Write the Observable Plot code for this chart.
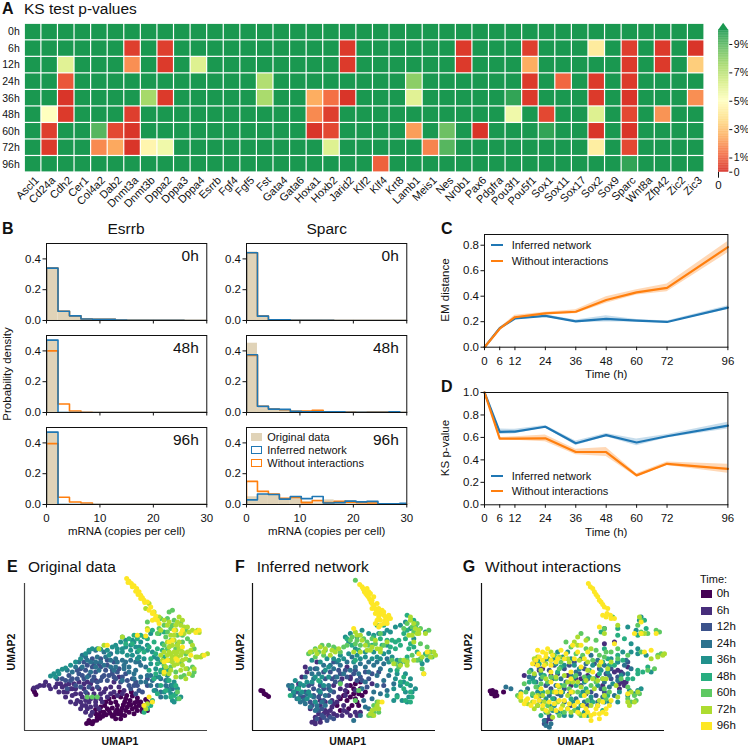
<!DOCTYPE html>
<html><head><meta charset="utf-8">
<script src="https://cdn.jsdelivr.net/npm/d3@7"></script>
<script src="https://cdn.jsdelivr.net/npm/@observablehq/plot@0.6"></script>
<style>
html,body{margin:0;padding:0;background:#fff}
#root{position:relative;width:748px;height:747px;overflow:hidden;font-family:"Liberation Sans",Arial,sans-serif;color:#111}
#root svg{position:absolute;overflow:visible;background:transparent}
.t{position:absolute;white-space:nowrap;line-height:1}
</style></head><body><div id="root"></div>
<script>
const genes=["Ascl1","Cd24a","Cdh2","Cer1","Col4a2","Dab2","Dnmt3a","Dnmt3b","Dppa2","Dppa3","Dppa4","Esrrb","Fgf4","Fgf5","Fst","Gata4","Gata6","Hoxa1","Hoxb2","Jarid2","Klf2","Klf4","Krt8","Lamb1","Meis1","Nes","Nr0b1","Pax6","Pdgfra","Pou3f1","Pou5f1","Sox1","Sox11","Sox17","Sox2","Sox9","Sparc","Wnt8a","Zfp42","Zic2","Zic3"];
const hours=["0h","6h","12h","24h","36h","48h","60h","72h","96h"];
const lowP6h={Dnmt3a:.3,Dppa2:.3,Jarid2:.2,Nr0b1:.2,Pou5f1:.3,Sox2:4.2,Sparc:.3,Zfp42:.2,Zic3:.1};
const lowP12h={Cdh2:6,Dnmt3a:1.9,Dppa2:.2,Dppa4:6.1,Jarid2:.2,Nr0b1:.2,Pou5f1:2.5,Sparc:.2,Zfp42:.2,Zic3:3.3};
const lowP24h={Cdh2:.8,Fst:7.2,Lamb1:8,Pou5f1:.2,Sox11:1.1,Sox2:.2,Sparc:.2};
const lowP36h={Cdh2:.1,Dnmt3b:7.5,Dppa2:.2,Fst:7.4,Hoxa1:2.5,Hoxb2:1.3,Jarid2:.1,Lamb1:6,Pou3f1:9.6,Pou5f1:.2,Sox2:.2,Sparc:.1,Zic3:1.9};
const lowP48h={Cd24a:5,Cdh2:.2,Dnmt3a:.3,Hoxa1:1.8,Hoxb2:.3,Pou3f1:5.5,Sox1:.5,Sox2:6.1,Sparc:.5,Zfp42:2};
const lowP60h={Cd24a:.3,Col4a2:9,Dab2:.5,Dnmt3a:.1,Hoxa1:.1,Hoxb2:.5,Lamb1:2.2,Nes:8.6,Pax6:.1,Sox1:9.6,Sox2:.1,Sparc:.1};
const lowP72h={Cd24a:.2,Col4a2:1.8,Dab2:2.4,Dnmt3a:.1,Dnmt3b:4.6,Dppa2:5.5,Hoxb2:6.1,Meis1:1.7,Nes:9,Sox2:4.3,Sparc:.5};
const lowP96h={Klf4:1,Sparc:9.6};
const lowByHour={"6h":lowP6h,"12h":lowP12h,"24h":lowP24h,"36h":lowP36h,"48h":lowP48h,"60h":lowP60h,"72h":lowP72h,"96h":lowP96h};
const rdylgnStops=[0,1.25,2.5,3.75,5,6.25,7.5,8.75,10];
const rdylgnColors=["#d73027","#f46d43","#fdae61","#fee08b","#ffffbf","#d9ef8b","#a6d96a","#66bd63","#1a9850"];
const timeColors=["#440154","#472d7b","#3b528b","#2c728e","#21918c","#28ae80","#5ec962","#addc30","#fde725"];
const tan="#e0d3b8",blue="#1f77b4",orange="#ff7f0e";

// Histograms (density per bin)
const esrrbEdge=2.15, sparcEdge=2.05;
const esrrb0hOrig=[.34,.06,.03,.01,.007,.007,.002,.002,.002,.001,.001,.001,0,0];
const esrrb0hInf=[.34,.06,.03,.01,.008,.008,.003,.002,.002,.002,.002,.002,0,0];
const esrrb0hNo=[.34,.06,.03,.01,.008,.008,.003,.002,.002,.002,.002,.002,0,0];
const esrrb48hOrig=[.47,.002,0,0,0,0,0,0,0,0,0,0,0,0];
const esrrb48hInf=[.47,0,0,0,0,0,0,0,0,0,0,0,0,0];
const esrrb48hNo=[.4,.055,.01,.002,0,0,0,0,0,0,0,0,0,0];
const esrrb96hOrig=[.47,.002,0,0,0,0,0,0,0,0,0,0,0,0];
const esrrb96hInf=[.47,0,0,0,0,0,0,0,0,0,0,0,0,0];
const esrrb96hNo=[.395,.047,.016,.01,0,0,0,0,0,0,0,0,0,0];
const sparc0hOrig=[.445,.028,.004,.003,.001,.001,.001,0,0,0,0,0,0,0,0];
const sparc0hInf=[.44,.028,.005,.005,.002,.002,.001,.001,0,0,0,0,0,0,0];
const sparc0hNo=[.44,.028,.005,.005,.002,.002,.001,.001,0,0,0,0,0,0,0];
const sparc48hOrig=[.45,.025,.02,.015,.01,.005,.005,.005,.005,.002,.001,.002,.002,.002,.001];
const sparc48hInf=[.375,.04,.022,.02,.008,.004,.005,.005,.004,.002,.002,.002,.001,.004,0];
const sparc48hNo=[.37,.04,.022,.018,.007,.01,.014,.005,.004,.003,.001,.003,.003,.002,0];
const sparc96hOrig=[.05,.065,.06,.035,.045,.02,.01,.03,.02,.025,.012,.012,.005,.003,.002];
const sparc96hInf=[.03,.068,.065,.035,.052,.038,.052,.01,.012,.022,.017,.02,.005,.004,.008];
const sparc96hNo=[.15,.085,.067,.04,.045,.012,.025,.012,.02,.015,.012,.01,.003,.003,.003];

// Lines
const timeH=[0,6,12,24,36,48,60,72,96];
const emInf=[0,.15,.225,.245,.203,.222,.208,.198,.31];
const emInfErr=[0,.005,.01,.01,.01,.025,.01,.008,.015];
const emNo=[0,.145,.235,.265,.278,.37,.43,.465,.785];
const emNoErr=[0,.008,.015,.01,.015,.025,.02,.03,.045];
const ksInf=[1,.65,.652,.695,.548,.62,.555,.61,.705];
const ksInfErr=[0,.025,.02,.01,.02,.015,.03,.015,.03];
const ksNo=[1,.59,.59,.592,.47,.47,.262,.365,.32];
const ksNoErr=[0,.01,.015,.03,.025,.04,.015,.015,.04];

// UMAP readings, panel E (original data)
const e0h=[258,534,268,532,278,528,288,524,298,518,306,512,316,508,328,503,340,508,352,505,362,508,320,490,335,488,350,492,365,488,380,485,395,490,410,495,425,498,372,470,388,465,402,472,415,480,430,480,360,455,378,450,395,452,410,458,345,470,330,472,300,498,285,492,312,480,385,500,400,505,98,432,102,440,106,447,372,510,440,470,360,520,265,525,275,535,290,515,310,500,325,495,345,498,360,498,375,495,390,478,405,485,420,470,435,462,350,480,368,478,385,475,340,455,325,460,300,485,315,470,358,440,375,460,392,440,410,468,425,490,440,495,285,505,295,508,335,512,345,520];
const e6h=[130,420,150,430,170,415,185,425,200,440,215,450,230,465,245,480,260,490,275,500,295,490,305,470,285,470,265,470,245,455,225,430,205,415,190,440,175,440,320,455,340,440,355,425,370,435,300,445,280,445,315,430,250,430,235,410,260,410,340,410,355,395,118,420,110,425,100,428,255,480,270,485,215,430,195,420,330,425,210,470,225,475,240,470,255,465,270,460,285,460,300,460,240,490,255,500,270,510,285,480,225,445,210,430,195,455,180,415,165,425,145,420,135,410,240,445,260,445,275,430,295,430,310,440,330,445,350,450,365,445,220,415,250,415,270,415,285,405];
const e12h=[215,400,235,385,255,375,275,365,295,355,315,375,335,385,355,370,375,385,395,400,410,420,425,440,280,395,300,405,320,405,250,400,225,420,265,425,290,425,205,390,195,405,340,350,250,350,275,340,300,340,320,345,390,430,405,445,440,420,440,400,240,370,285,380,310,390,345,400,170,400,185,400,200,430,240,425,255,440,275,405,290,410,305,395,325,390,340,395,360,410,380,405,400,420,415,435,210,405,230,400,245,390,265,390,280,355,260,360,230,375,300,365,320,360,335,375,350,380,365,395,385,420,405,410];
const e24h=[245,330,265,320,285,315,310,320,330,325,345,340,365,345,385,365,405,375,420,395,440,390,455,405,470,420,480,440,500,430,515,430,310,360,295,375,270,380,245,365,225,365,200,375,365,405,345,365,330,365,415,350,390,345,435,365,480,400,495,405,260,345,290,335,370,370,400,400,235,350,255,335,270,350,285,350,300,350,315,335,330,345,350,350,370,360,385,380,400,385,420,410,435,410,450,420,465,435,480,455,495,420,510,420,450,390,465,395,420,360,405,350,215,380,285,365,260,395,340,375,375,350];
const e36h=[150,392,160,385,172,378,185,372,195,368,210,360,225,350,240,340,255,325,275,310,300,312,320,315,350,320,365,320,375,305,390,300,405,305,420,290,440,300,455,320,470,340,430,340,410,340,395,330,380,330,450,355,465,370,480,380,500,390,520,410,530,430,510,445,495,455,515,465,450,265,460,435,410,320,425,310,375,285,395,285,265,315,290,310,335,305,345,300,360,290,400,290,415,305,440,315,460,335,480,350,490,370,475,395,500,405,515,420,525,445,540,455,520,470,505,435,490,440,415,335,390,315,365,310,350,310,325,330,165,395,175,385];
const e48h=[365,275,385,280,400,270,420,270,375,295,440,280,460,290,430,320,450,340,470,355,490,335,510,300,485,295,470,310,500,375,460,400,480,420,495,435,520,450,440,490,430,500,450,480,455,255,475,265,490,260,395,295,410,280,430,275,415,315,445,305,465,325,485,315,505,345,480,375,465,385,445,375,505,405,525,420,510,455,530,460,455,465,470,445];
const e60h=[515,195,505,200,520,225,500,220,480,220,490,240,510,250,530,270,545,290,525,310,500,310,520,340,540,350,490,360,475,250,470,265,540,235,555,255,570,290,580,310,560,370,580,380,575,390,550,390,260,455,275,455,290,455,535,460,530,440,440,230,500,260,515,240,495,275,510,285,490,300,530,295,540,310,555,325,565,345,545,270,560,280,510,365,525,380,540,395,575,365];
const e72h=[535,215,545,225,540,240,525,255,550,265,565,260,590,255,595,262,510,270,520,285,535,290,515,300,530,320,510,325,540,330,560,320,575,300,590,335,605,330,620,325,545,360,520,360,500,345,490,385,505,385,525,395,555,370,435,190,445,175,460,200,475,215,490,225,505,230,480,255,440,250,365,275,310,300,295,310,440,475,435,490,530,335,515,350,530,300,550,245,560,245,575,255,530,230,520,270,500,290,505,320,520,320,545,345,555,340,570,315,585,335,600,335,495,365,510,375,540,375,565,385,555,400,580,370,500,240,525,240,490,320,500,330,515,335,530,355,545,320,485,345,480,330,505,305,525,330,535,310,510,345];
const e96h=[378,100,385,108,392,115,400,122,408,130,415,140,420,150,425,158,430,165,440,170,450,185,458,200,465,212,470,225,455,225,440,255,515,285,520,255,545,255,595,255,500,345,490,350,320,300,410,270,435,272,545,305,570,330,610,330,530,345,490,380,455,470,445,455,430,480,382,112,395,125,405,138,412,148,420,160,432,172,445,195,455,205,462,222,475,235,505,290,540,265,585,262,525,340];
// panel F (inferred network)
const f0h=[62,435,68,437,72,445,78,448,85,453,330,420,345,415,360,410,320,440,340,445,360,430,375,440,300,460,320,465,345,460,290,480,300,495,335,480,355,480,340,430,355,445,365,450,330,455,310,450,350,470,325,490];
const f6h=[215,530,225,535,240,530,250,515,265,510,280,505,235,505,255,495,275,485,290,470,310,480,240,480,225,515,305,510,320,500,345,500,360,500,300,430,280,420,230,350,195,365,200,380,185,395,320,365,395,415,330,395,345,435,320,420,315,450,225,525,240,520,260,500,270,495,250,505,290,510,280,475,295,455,310,495,330,510,350,510,315,435,330,400,305,400,275,465,255,470,240,465,225,470,205,440,175,415,210,490];
const f12h=[150,430,170,440,190,455,210,470,235,455,250,465,265,450,280,440,220,430,205,420,195,440,300,410,320,395,340,385,360,395,375,380,385,400,255,400,270,380,295,375,250,430,245,490,260,525,280,520,230,520,245,510,160,440,180,455,200,460,220,450,240,445,265,430,285,410,300,385,315,375,345,375,365,405,395,385,415,380,430,420,380,425,275,400,250,380,225,370,280,350,215,480,235,495,250,515,270,515,175,425,215,415,240,420,285,395,350,405];
const f24h=[145,420,160,450,180,470,195,475,225,495,245,470,220,400,235,385,195,395,210,370,270,360,290,350,320,350,345,365,375,365,400,360,420,370,440,340,410,390,430,405,365,430,400,440,370,465,385,490,340,525,360,510,230,480,270,470,255,450,220,455,155,420,170,460,190,465,210,485,230,490,255,480,270,435,215,385,230,370,250,360,280,370,300,360,335,335,360,355,385,350,410,350,430,355,445,390,460,415,440,435,420,445,395,460,375,485,410,420,375,410,180,445,200,445,235,435,265,420,290,395,310,385,330,375,355,385,385,380];
const f36h=[165,405,180,415,205,440,190,420,215,410,240,410,255,375,240,350,215,345,260,340,300,330,340,350,360,340,395,340,420,340,440,300,470,345,450,375,465,400,490,410,510,420,505,455,470,450,460,430,350,275,315,275,325,290,415,265,430,265,450,260,495,230,480,240,520,280,560,345,160,440,175,460,210,450,240,440,170,430,155,425,185,440,200,410,225,395,245,395,265,395,280,340,310,340,325,325,350,330,375,335,410,335,430,325,455,335,445,320,480,355,470,385,480,420,495,440,515,440,500,470,485,465,460,465,440,450,330,265,365,255,385,265,400,270,440,255,465,245,510,250,555,260,545,355,200,460,225,470,250,420,265,365,295,345,345,310,375,320,400,320,445,350,495,385,510,400,525,430];
const f48h=[150,450,175,430,235,405,345,345,395,300,420,280,440,285,465,290,495,280,480,300,505,310,530,320,555,325,480,410,490,430,470,455,510,470,430,240,410,240,500,210,520,225,525,245,500,255,320,280,335,300,355,315,400,275,425,300,450,305,475,285,510,295,540,345,500,335,470,375,490,395,500,415,515,455,465,310,520,305,490,265,455,285,510,440,495,465];
const f60h=[205,325,225,310,245,300,265,300,285,310,225,335,250,330,300,320,335,275,345,295,320,300,360,300,380,290,395,280,420,265,345,465,355,435,300,415,410,470,400,500,395,510,475,365,495,350,515,330,540,340,560,305,575,335,545,370,550,385,490,250,520,260,540,250,565,255,345,105,215,320,235,320,255,315,280,305,310,305,330,285,350,285,370,280,385,300,405,295,430,300,455,345,465,355,480,345,500,345,530,345,560,330,570,320,540,295,500,235,515,245,530,235,415,500,385,510,400,480];
const f72h=[210,320,225,315,240,305,255,310,275,315,295,310,270,330,345,260,360,270,375,300,395,305,410,310,380,315,360,320,340,320,405,490,410,480,415,470,390,505,480,360,500,360,520,345,545,335,565,320,585,330,510,215,520,235,530,265,505,270,520,290,535,255,230,325,250,320,285,320,350,270,365,285,390,315,420,310,440,290,405,285,420,320,395,495,400,510,415,490,525,250,515,270,510,225,535,265,555,265,500,350,490,345,460,355,580,320,570,335];
const f96h=[358,118,365,125,372,140,380,150,388,162,395,175,405,190,412,200,420,205,430,210,440,215,420,225,405,235,395,165,410,175,425,195,415,215,435,225,445,210,380,130,390,145,405,205,440,235,415,245,425,470,550,385,535,325,560,320,340,250,368,130,376,145,384,155,392,170,400,180,408,195,416,210,425,205,435,215,395,190,385,140,400,155,415,190,430,200,430,235,410,225,420,240,440,225,450,220,370,132];
// panel G (without interactions)
const g0h=[58,437,65,435,75,440,72,452,62,445,98,440,68,445,78,450];
const g6h=[160,390,205,375,215,370,225,530,235,520,400,295,430,290,315,400,440,375,455,410,470,365,460,420,445,430,380,390,350,390,290,390,240,390,225,525,240,520,300,420,330,400,395,420,430,380,450,380,445,415,465,410];
const g12h=[190,355,220,345,250,360,280,370,310,350,340,370,370,355,420,370,470,350,420,400,390,430,360,440,330,420,280,430,240,430,210,450,220,535,400,250,300,480,350,480,205,370,235,375,260,385,295,360,325,385,350,400,385,370,405,385,440,395,455,385,400,440,375,450,345,445,295,445,260,445,225,420,235,510];
const g24h=[225,540,240,535,175,395,190,390,210,400,245,400,270,400,300,390,330,340,360,330,400,360,440,350,460,360,480,370,400,410,430,450,380,470,340,470,280,470,250,460,170,430,120,430,105,425,220,525,235,545,195,410,230,415,255,420,285,410,315,380,345,355,380,345,415,390,440,405,465,345,415,425,395,455,360,465,315,460,270,450,235,450,205,465];
const g36h=[180,375,200,345,230,340,260,320,290,320,310,360,340,410,380,420,410,380,450,390,480,320,500,325,455,320,480,295,470,245,510,215,500,310,525,330,215,470,245,495,280,510,320,490,360,455,400,470,470,450,490,445,150,440,185,400,210,385,250,340,275,335,300,340,325,370,355,395,395,400,420,340,440,350,470,385,500,435,475,435,510,430,200,480,235,480,260,500,300,510,340,500,380,480,415,470,440,470,540,380,505,225,495,255,200,440,225,460,250,480,275,440,305,470,335,440,365,360,390,375,425,415,445,440,280,360,255,355];
const g48h=[190,410,220,390,260,380,300,410,330,450,370,400,410,340,440,330,485,400,500,385,515,380,520,225,500,270,525,250,460,280,440,270,390,260,400,310,210,510,290,490,350,510,410,450,205,355,240,345,270,365,310,395,345,430,385,385,415,360,455,345,470,400,440,250,530,365,500,375,215,440,245,460,300,460,365,470,395,495,175,410,200,425,240,440,270,420,315,420,355,375,395,350,430,360,185,450,225,500,275,500,330,480];
const g60h=[140,450,165,440,195,425,230,410,270,350,285,290,330,265,350,280,385,330,375,285,420,320,440,310,530,375,550,370,555,255,565,260,500,240,510,260,470,425,490,450,480,470,495,465,425,215,400,250,250,330,280,420,320,440,360,420,175,380,215,395,255,400,295,430,315,390,335,330,365,345,400,335,440,340,470,330,510,320,560,330,570,325,530,265,510,225,230,480,265,510,310,495,350,465,400,430,470,460,505,445,160,415,185,445,210,415,240,395,265,370,300,305,315,325,345,310,375,315,405,320,340,395,375,410,415,440,450,400,260,440,280,500,330,510,405,460];
const g72h=[145,455,170,475,200,480,230,500,260,470,290,450,320,410,350,350,360,310,310,290,290,340,240,320,200,335,220,470,250,440,280,390,320,300,440,240,400,265,520,265,540,340,560,335,580,325,470,470,480,440,500,440,420,350,395,400,350,440,150,465,185,470,215,490,245,515,275,480,305,440,330,425,365,400,385,360,345,285,320,275,265,335,225,355,190,340,215,450,255,395,295,350,305,410,345,405,370,430,405,400,400,450,440,455,475,480,490,470,510,265,505,215,575,330,190,385,210,375,225,400,265,425,290,410,325,345,350,375,380,405,410,370,435,420,230,440,200,450,190,490,240,490,300,500,325,505,385,465,360,480];
const g96h=[352,115,358,125,370,140,380,155,390,170,400,185,410,190,418,210,405,215,430,220,510,230,490,265,555,265,385,245,430,295,520,320,540,315,200,315,215,320,230,310,225,335,200,360,240,360,220,360,150,455,165,465,180,480,205,465,250,475,270,490,295,475,320,470,345,490,360,510,385,505,405,490,395,470,340,450,300,440,260,420,240,380,280,340,330,300,350,320,300,380,255,440,365,130,375,148,385,165,395,178,408,205,420,220,395,210,510,265,185,355,205,335,215,345,245,330,260,340,270,315,310,340,330,365,365,380,390,350,150,445,170,460,190,470,215,480,235,470,265,465,290,490,310,480,335,480,375,490,395,500,415,480,370,505,350,500,195,345,225,325,240,345,255,350,285,325,305,300,320,320,340,340,300,400,270,440,240,410,210,430,160,475,195,455,225,495,255,495,280,465,320,500,340,510,380,480,420,465,405,505,385,520,360,525,470,445];

const FONT='"Liberation Sans",Arial,sans-serif';
const root=document.getElementById("root");
const baseStyle={fontFamily:FONT,fontSize:"11.5px",background:"transparent",overflow:"visible"};
function place(node,left,top){node.style.position="absolute";node.style.left=left+"px";node.style.top=top+"px";root.append(node);}
function label(text,x,y,o={}){const d=document.createElement("div");d.className="t";d.textContent=text;
  const tr=o.rot?"translate(-50%,-50%) rotate(-90deg)":o.center?"translate(-50%,-50%)":"translateY(-50%)";
  d.style.cssText+=`left:${x}px;top:${y}px;font-size:${o.size||11}px;font-weight:${o.bold?"bold":"normal"};transform:${tr};color:${o.color||"#111"}`;root.append(d);}
function swatch(x,y,w,h,css){const d=document.createElement("div");d.style.cssText=`position:absolute;left:${x}px;top:${y}px;width:${w}px;height:${h}px;box-sizing:border-box;${css}`;root.append(d);}

// Panel A
const cells=hours.flatMap(h=>genes.map(g=>({gene:g,hour:h,p:(lowByHour[h]&&lowByHour[h][g]!==undefined)?lowByHour[h][g]:12})));
const colorOpt={type:"linear",domain:rdylgnStops,range:rdylgnColors,clamp:true};
place(Plot.plot({width:710,height:220,marginLeft:24.3,marginRight:6,marginTop:23.3,marginBottom:48,style:baseStyle,
  x:{type:"band",domain:genes,padding:0,round:false},y:{type:"band",domain:hours,padding:0,round:false},color:colorOpt,
  marks:[Plot.cell(cells,{x:"gene",y:"hour",fill:"p",inset:.6}),
    Plot.axisX({tickSize:0,tickRotate:-45,label:null,fontSize:11,tickPadding:6,dx:4,fill:"#111"}),
    Plot.axisY({tickSize:0,label:null,fontSize:10.5,tickPadding:5,fill:"#111"})]}),0,0);
const cbarSteps=d3.range(0,10,.05);
place(Plot.plot({width:50,height:200,marginLeft:0,marginRight:39.7,marginTop:22.7,marginBottom:28.3,style:baseStyle,
  x:{domain:[0,1]},y:{domain:[0,10.5]},color:colorOpt,
  marks:[Plot.rect(cbarSteps,{x1:0,x2:1,y1:d=>d,y2:d=>d+.06,fill:d=>d}),
    Plot.areaX([{y:9.99,a:0,b:1},{y:10.5,a:.5,b:.5}],{y:"y",x1:"a",x2:"b",fill:rdylgnColors[8]}),
    Plot.axisY({anchor:"right",ticks:[0,1,3,5,7,9],tickFormat:d=>d?d+"%":"0",tickSize:3,tickPadding:2,label:null,fontSize:10.5,fill:"#111"})]}),718,0);

// Panel B
function histRows(vals,edge){return vals.map((v,i)=>({a:i*edge,b:(i+1)*edge,v}));}
function stepLine(vals,edge){return [{x:0,y:0},...vals.map((v,i)=>({x:i*edge,y:v})),{x:vals.length*edge,y:0}];}
function hist(orig,inf,no,edge,x0,top,hour,bottom){
  const marks=[Plot.rectY(histRows(orig,edge),{x1:"a",x2:"b",y:"v",fill:tan}),
    Plot.line(stepLine(no,edge),{x:"x",y:"y",curve:"step-after",stroke:orange,strokeWidth:1.6,clip:true}),
    Plot.line(stepLine(inf,edge),{x:"x",y:"y",curve:"step-after",stroke:blue,strokeWidth:1.6,clip:true}),
    Plot.frame({stroke:"#111",strokeWidth:1}),
    Plot.axisX({ticks:[0,10,20,30],tickSize:3.5,fontSize:11.5,fill:"#111",tickPadding:6,tickFormat:bottom?undefined:()=>"",label:bottom?"mRNA (copies per cell)":null,labelAnchor:"center",labelArrow:"none",labelOffset:31}),
    Plot.axisY({ticks:[0,.2,.4],tickSize:3.5,fontSize:11.5,fill:"#111",tickPadding:2,label:null,tickFormat:d3.format(".1f")}),
    Plot.text([hour],{text:d=>d,frameAnchor:"top-right",dx:-8,dy:6.5,fontSize:15.5,fill:"#111"})];
  place(Plot.plot({width:160.3+50,height:77+(bottom?36:6),marginLeft:40,marginRight:10,marginTop:0,marginBottom:bottom?36:6,style:baseStyle,
    x:{domain:[0,30]},y:{domain:[0,.5]},marks}),x0-40,top);
}
hist(esrrb0hOrig,esrrb0hInf,esrrb0hNo,esrrbEdge,45.7,243.3,"0h",false);
hist(esrrb48hOrig,esrrb48hInf,esrrb48hNo,esrrbEdge,45.7,335.3,"48h",false);
hist(esrrb96hOrig,esrrb96hInf,esrrb96hNo,esrrbEdge,45.7,427.3,"96h",true);
hist(sparc0hOrig,sparc0hInf,sparc0hNo,sparcEdge,246.3,243.3,"0h",false);
hist(sparc48hOrig,sparc48hInf,sparc48hNo,sparcEdge,246.3,335.3,"48h",false);
hist(sparc96hOrig,sparc96hInf,sparc96hNo,sparcEdge,246.3,427.3,"96h",true);
swatch(250.7,432.5,11.6,8,`background:${tan}`);
swatch(250.7,446,11.6,8,`border:1.5px solid ${blue}`);
swatch(250.7,459.3,11.6,8,`border:1.5px solid ${orange}`);
label("Original data",267.3,436.7);label("Inferred network",267.3,450);label("Without interactions",267.3,463.3);
label("Probability density",7.5,374,{rot:true,size:11.5});

// Panels C, D
function lineRows(v,e){return timeH.map((t,i)=>({t,v:v[i],lo:v[i]-e[i],hi:v[i]+e[i]}));}
function linePanel(a,ae,b,be,top,h,yMax,yTicks,yLab){
  const A=lineRows(a,ae),B=lineRows(b,be);
  place(Plot.plot({width:243.4+50,height:h+36,marginLeft:40,marginRight:10,marginTop:0,marginBottom:36,style:baseStyle,
    x:{domain:[0,96]},y:{domain:[0,yMax]},marks:[
    Plot.areaY(A,{x:"t",y1:"lo",y2:"hi",fill:blue,fillOpacity:.25,clip:true}),
    Plot.areaY(B,{x:"t",y1:"lo",y2:"hi",fill:orange,fillOpacity:.3,clip:true}),
    Plot.line(A,{x:"t",y:"v",stroke:blue,strokeWidth:2.2}),
    Plot.line(B,{x:"t",y:"v",stroke:orange,strokeWidth:2.2}),
    Plot.frame({stroke:"#111",strokeWidth:1}),
    Plot.axisX({ticks:timeH,tickSize:3.5,fontSize:11.5,fill:"#111",tickPadding:6,label:"Time (h)",labelAnchor:"center",labelArrow:"none",labelOffset:31}),
    Plot.axisY({ticks:yTicks,tickSize:3.5,fontSize:11.5,fill:"#111",tickPadding:2,label:null,tickFormat:d3.format(".1f")})]}),484.3-40,top);
  label(yLab,445.7,top+h/2,{rot:true,size:11.5});
}
linePanel(emInf,emInfErr,emNo,emNoErr,234,112.7,.884,[0,.2,.4,.6,.8],"EM distance");
linePanel(ksInf,ksInfErr,ksNo,ksNoErr,391.7,112.3,1,[0,.2,.4,.6,.8,1],"KS p-value");
function lineLegend(y1,y2){swatch(491,y1-1,12.3,2,`background:${blue}`);swatch(491,y2-1,12.3,2,`background:${orange}`);
  label("Inferred network",511.7,y1);label("Without interactions",511.7,y2);}
lineLegend(245,260.7);lineLegend(475.7,491);

// Panels E, F, G
function scatterRows(arrs){return arrs.flatMap((a,k)=>{const out=[];for(let i=0;i<a.length;i+=2)out.push({u:a[i],v:a[i+1],c:timeColors[k]});return out;});}
function scatter(arrs,zL,x0,axisColor){
  place(Plot.plot({width:193,height:167,marginLeft:5,marginRight:5,marginTop:17,marginBottom:3,style:baseStyle,
    x:{domain:[zL,zL+548],axis:null},y:{domain:[555,115],axis:null},marks:[
    Plot.dot(scatterRows(arrs),{x:"u",y:"v",fill:"c",r:2.5}),
    Plot.ruleX([zL],{stroke:axisColor,strokeWidth:1.2}),
    Plot.ruleY([555],{stroke:axisColor,strokeWidth:1.2})]}),x0-5,566);
}
scatter([e0h,e6h,e12h,e24h,e36h,e48h,e60h,e72h,e96h],72,24,"#444");
scatter([f0h,f6h,f12h,f24h,f36h,f48h,f60h,f72h,f96h],37,252.3,"#111");
scatter([g0h,g6h,g12h,g24h,g36h,g48h,g60h,g72h,g96h],32,480.7,"#111");
hours.forEach((h,i)=>{const y=594+i*16.5;swatch(700.7,y-4,11,8,`background:${timeColors[i]}`);label(h,716.7,y,{size:11.5});});
label("Time:",700,579);
[[120,11],[347.7,239.5],[576,467.7]].forEach(([cx,rx])=>{label("UMAP1",cx,741,{center:true,bold:true,size:10.5});label("UMAP2",rx,651.7,{rot:true,bold:true,size:10.5});});

// Headings
label("A",2,9,{bold:true,size:16});label("KS test p-values",24,9,{size:15.5});
label("B",2,229,{bold:true,size:16});label("Esrrb",126,229,{center:true,size:15.5});label("Sparc",326.7,229,{center:true,size:15.5});
label("C",441,229,{bold:true,size:16});label("D",441,386.7,{bold:true,size:16});
label("E",7,566.7,{bold:true,size:16});label("Original data",28,566.7,{size:15.5});
label("F",235,566.7,{bold:true,size:16});label("Inferred network",256.7,566.7,{size:15.5});
label("G",462.7,566.7,{bold:true,size:16});label("Without interactions",485,566.7,{size:15.5});
</script></body></html>
